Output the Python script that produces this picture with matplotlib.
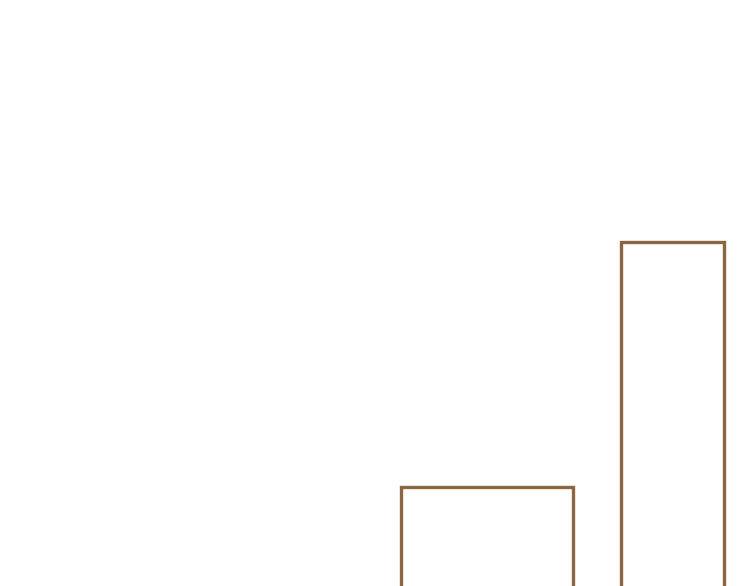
import matplotlib
matplotlib.use("Agg")
import matplotlib.pyplot as plt

# Data
categories = ["A", "B"]
values = [119, 364]

# Layout / style
centers = [487, 672]
widths = [172, 103]
edge_color = "#8a6742"

fig = plt.figure(figsize=(7.5, 5.86), dpi=100)
ax = fig.add_axes([0, 0, 1, 1])
ax.bar(centers, values, width=widths, bottom=0, facecolor="white",
       edgecolor=edge_color, linewidth=2.4, label=categories)
ax.set_xlim(0, 750)
ax.set_ylim(20, 606)
ax.axis("off")
fig.savefig("out.png", dpi=100, facecolor="white")
